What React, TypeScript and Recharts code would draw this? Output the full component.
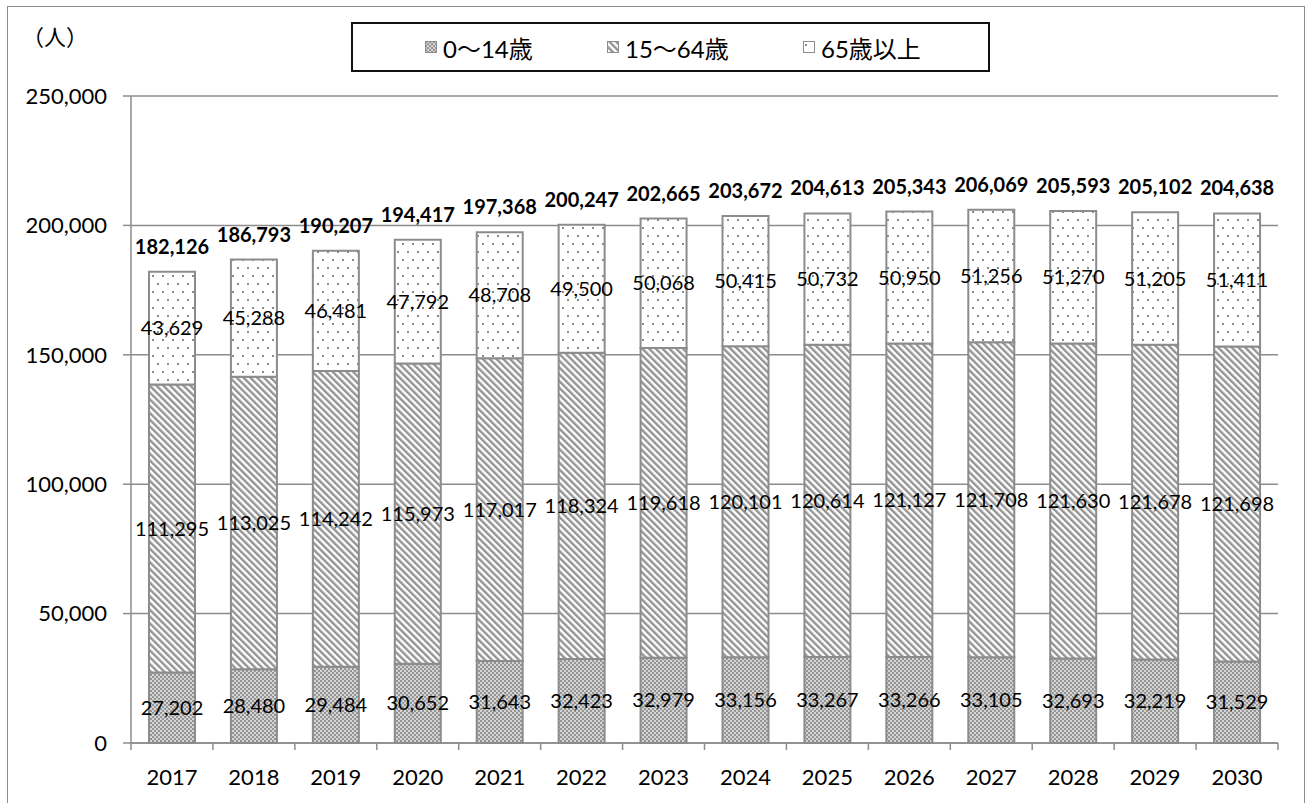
import React from "react";
import { Bar, BarChart, CartesianGrid, LabelList, XAxis, YAxis } from "recharts";

// 年齢3区分別人口の推計（人）
const YEARS = ["2017", "2018", "2019", "2020", "2021", "2022", "2023", "2024", "2025", "2026", "2027", "2028", "2029", "2030"];
const AGE_0_14 = [27202, 28480, 29484, 30652, 31643, 32423, 32979, 33156, 33267, 33266, 33105, 32693, 32219, 31529];
const AGE_15_64 = [111295, 113025, 114242, 115973, 117017, 118324, 119618, 120101, 120614, 121127, 121708, 121630, 121678, 121698];
const AGE_65_UP = [43629, 45288, 46481, 47792, 48708, 49500, 50068, 50415, 50732, 50950, 51256, 51270, 51205, 51411];
const TOTALS = [182126, 186793, 190207, 194417, 197368, 200247, 202665, 203672, 204613, 205343, 206069, 205593, 205102, 204638];
const Y_TICKS = [0, 50000, 100000, 150000, 200000, 250000];

const SERIES = [
  { key: "young", name: "0〜14歳", pattern: "pat-young" },
  { key: "work", name: "15〜64歳", pattern: "pat-work" },
  { key: "old", name: "65歳以上", pattern: "pat-old" },
];
// legend icon x positions (page px)
const LEGEND_X = [425, 607, 803];

const FONT = "Lato, 'Noto Sans CJK JP', sans-serif";
const GRAY = "#8c8c8c";
const W = 1308;
const H = 803;
const PLOT_LEFT = 131;
const PLOT_RIGHT = 1278;
const PLOT_TOP = 96;
const PLOT_BOTTOM = 743;
const CAT_W = (PLOT_RIGHT - PLOT_LEFT) / YEARS.length;

const data = YEARS.map((year, i) => ({
  year,
  young: AGE_0_14[i],
  work: AGE_15_64[i],
  old: AGE_65_UP[i],
  total: TOTALS[i],
}));

const fmt = (v: any) => Number(v).toLocaleString("en-US");

function Patterns() {
  return (
    <svg width={0} height={0} style={{ position: "absolute" }}>
      <defs>
        <pattern id="pat-young" width={4} height={4} patternUnits="userSpaceOnUse">
          <rect width={4} height={4} fill="#d4d4d4" />
          <rect width={2} height={2} fill="#959595" />
          <rect x={2} y={2} width={2} height={2} fill="#959595" />
        </pattern>
        <pattern id="pat-work" width={4.8} height={4.8} patternUnits="userSpaceOnUse" patternTransform="rotate(-45)">
          <rect width={4.8} height={4.8} fill="#ffffff" />
          <rect width={2.4} height={4.8} fill="#939393" />
        </pattern>
        <pattern id="pat-old" width={10} height={16} patternUnits="userSpaceOnUse">
          <rect width={10} height={16} fill="#ffffff" />
          <rect x={2} y={3} width={2} height={2} fill="#8a8a8a" />
          <rect x={7} y={11} width={2} height={2} fill="#8a8a8a" />
        </pattern>
      </defs>
    </svg>
  );
}

function YearTick(props: any) {
  const { x, payload, index } = props;
  const left = x - CAT_W / 2;
  const right = x + CAT_W / 2;
  return (
    <g>
      <line x1={left} y1={PLOT_BOTTOM} x2={left} y2={PLOT_BOTTOM + 7} stroke={GRAY} strokeWidth={1.5} />
      {index === YEARS.length - 1 && (
        <line x1={right} y1={PLOT_BOTTOM} x2={right} y2={PLOT_BOTTOM + 7} stroke={GRAY} strokeWidth={1.5} />
      )}
      <text x={x} y={PLOT_BOTTOM + 33} textAnchor="middle" dominantBaseline="central" fontSize={22} fill="#000">
        {payload.value}
      </text>
    </g>
  );
}

function LegendBox() {
  const boxLeft = 351;
  return (
    <div
      style={{
        position: "absolute",
        left: boxLeft,
        top: 22,
        width: 639,
        height: 50,
        boxSizing: "border-box",
        border: "2px solid #111",
        fontSize: 24,
        background: "#fff",
      }}
    >
      {SERIES.map((s, i) => (
        <div
          key={s.key}
          style={{
            position: "absolute",
            left: LEGEND_X[i] - boxLeft - 2,
            top: 0,
            height: 46,
            display: "flex",
            alignItems: "center",
            gap: 6,
            whiteSpace: "nowrap",
          }}
        >
          <svg width={12} height={12}>
            <rect x={0.5} y={0.5} width={11} height={11} fill={`url(#${s.pattern})`} stroke={GRAY} strokeWidth={1} />
          </svg>
          <span>{s.name}</span>
        </div>
      ))}
    </div>
  );
}

export default function App() {
  return (
    <div
      style={{
        position: "absolute",
        left: 0,
        top: 0,
        width: W,
        height: H,
        overflow: "hidden",
        background: "#fff",
        fontFamily: FONT,
        color: "#000",
      }}
    >
      <Patterns />
      <div
        style={{
          position: "absolute",
          left: 7,
          top: 6,
          width: 1298,
          height: 820,
          boxSizing: "border-box",
          border: `1.5px solid ${GRAY}`,
        }}
      />
      <div style={{ position: "absolute", left: 22, top: 22, fontSize: 22, lineHeight: "30px" }}>（人）</div>
      <div style={{ position: "absolute", left: 0, top: 0 }}>
        <BarChart
          width={W}
          height={H}
          data={data}
          margin={{ top: PLOT_TOP, right: W - PLOT_RIGHT, bottom: 20, left: 0 }}
          barSize={46}
        >
          <CartesianGrid vertical={false} stroke={GRAY} strokeWidth={1.5} />
          <XAxis
            dataKey="year"
            height={40}
            axisLine={{ stroke: GRAY, strokeWidth: 1.5 }}
            tickLine={false}
            tick={<YearTick />}
            interval={0}
          />
          <YAxis
            width={PLOT_LEFT}
            domain={[0, 250000]}
            ticks={Y_TICKS}
            tickFormatter={fmt}
            axisLine={{ stroke: GRAY, strokeWidth: 1.5 }}
            tickLine={{ stroke: GRAY, strokeWidth: 1.5 }}
            tickSize={8}
            tickMargin={16}
            tick={{ fontSize: 22, fill: "#000" }}
          />
          {SERIES.map((s, i) => (
            <Bar
              key={s.key}
              dataKey={s.key}
              name={s.name}
              stackId="pop"
              fill={`url(#${s.pattern})`}
              stroke={GRAY}
              strokeWidth={2}
              isAnimationActive={false}
            >
              <LabelList dataKey={s.key} position="center" formatter={fmt} fontSize={20} fill="#000" />
              {i === SERIES.length - 1 && (
                <LabelList
                  dataKey="total"
                  position="top"
                  offset={18}
                  formatter={fmt}
                  fontSize={20}
                  fontWeight="bold"
                  fill="#000"
                />
              )}
            </Bar>
          ))}
        </BarChart>
      </div>
      <LegendBox />
    </div>
  );
}
